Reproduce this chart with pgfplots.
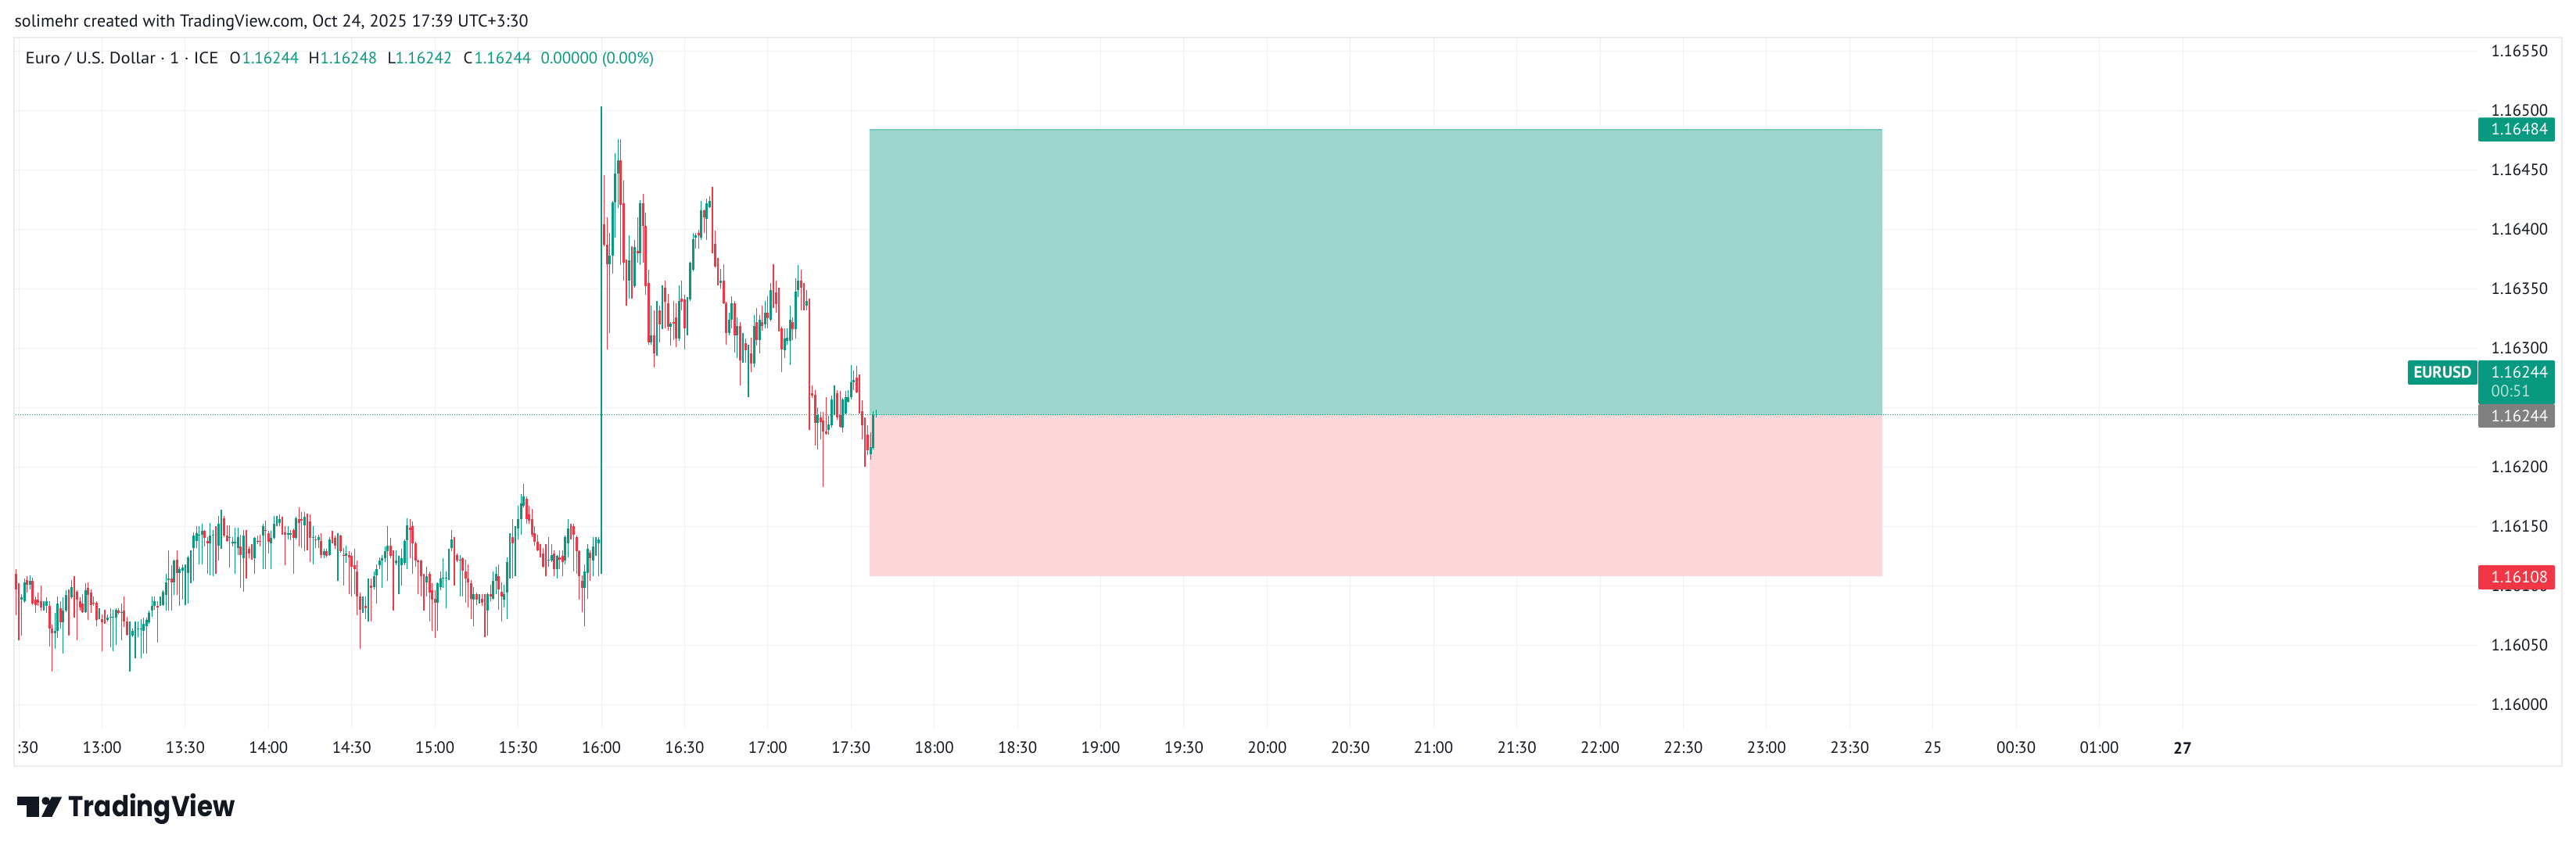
\documentclass[border=0pt]{standalone}
\usepackage{fontspec}
\setmainfont{PT Sans}
\newfontfamily\logofont{Poppins}
\usepackage{pgfplots}
\pgfplotsset{compat=1.18}
\usepackage{pgfplotstable}

\definecolor{tvgreen}{HTML}{089981}
\definecolor{tvred}{HTML}{F23645}
\definecolor{tvtext}{HTML}{131722}
\definecolor{gridc}{HTML}{F0F0F0}
\definecolor{framec}{HTML}{ECECEC}
\definecolor{tpfill}{HTML}{9CD6CC}
\definecolor{slfill}{HTML}{FCD7DA}
\definecolor{boxgray}{HTML}{808080}
\definecolor{dimwhite}{HTML}{B5E0D9}
\newcommand\tvs{\fontsize{6.25}{7}\selectfont}

% 1-minute candles, t = minutes after midnight (Oct 24)
\pgfplotstableread{
t o h l c
751 1.16088 1.16093 1.16058 1.16090
752 1.16087 1.16106 1.16086 1.16103
754 1.16101 1.16109 1.16097 1.16104
759 1.16082 1.16087 1.16079 1.16083
760 1.16083 1.16090 1.16077 1.16087
763 1.16060 1.16077 1.16047 1.16062
764 1.16062 1.16091 1.16056 1.16085
766 1.16069 1.16090 1.16043 1.16079
767 1.16079 1.16096 1.16078 1.16092
769 1.16090 1.16105 1.16089 1.16099
774 1.16078 1.16102 1.16077 1.16096
779 1.16073 1.16081 1.16072 1.16075
782 1.16071 1.16076 1.16070 1.16073
783 1.16073 1.16081 1.16048 1.16074
784 1.16073 1.16080 1.16045 1.16074
785 1.16073 1.16081 1.16050 1.16080
787 1.16077 1.16085 1.16054 1.16078
790 1.16059 1.16070 1.16028 1.16060
791 1.16058 1.16064 1.16057 1.16062
792 1.16062 1.16070 1.16039 1.16064
793 1.16063 1.16070 1.16057 1.16064
794 1.16063 1.16072 1.16039 1.16064
795 1.16062 1.16073 1.16043 1.16068
796 1.16066 1.16073 1.16043 1.16071
797 1.16069 1.16079 1.16068 1.16077
798 1.16079 1.16091 1.16074 1.16083
799 1.16083 1.16091 1.16080 1.16087
801 1.16084 1.16091 1.16083 1.16085
802 1.16084 1.16096 1.16083 1.16095
803 1.16092 1.16110 1.16079 1.16103
804 1.16105 1.16130 1.16079 1.16106
806 1.16103 1.16122 1.16092 1.16121
808 1.16111 1.16116 1.16083 1.16114
809 1.16113 1.16118 1.16088 1.16115
810 1.16113 1.16118 1.16084 1.16115
811 1.16111 1.16125 1.16085 1.16124
812 1.16124 1.16130 1.16102 1.16129
813 1.16132 1.16145 1.16104 1.16142
814 1.16138 1.16150 1.16132 1.16144
815 1.16142 1.16150 1.16118 1.16143
816 1.16143 1.16152 1.16118 1.16146
819 1.16136 1.16153 1.16109 1.16142
820 1.16142 1.16147 1.16108 1.16143
822 1.16134 1.16159 1.16121 1.16152
823 1.16151 1.16164 1.16131 1.16157
826 1.16140 1.16151 1.16115 1.16141
827 1.16136 1.16141 1.16133 1.16137
828 1.16136 1.16149 1.16110 1.16137
829 1.16132 1.16149 1.16126 1.16141
831 1.16123 1.16147 1.16095 1.16142
835 1.16123 1.16141 1.16110 1.16140
838 1.16142 1.16152 1.16114 1.16150
841 1.16136 1.16146 1.16114 1.16140
842 1.16140 1.16159 1.16139 1.16152
843 1.16151 1.16159 1.16150 1.16154
844 1.16153 1.16160 1.16150 1.16156
847 1.16143 1.16150 1.16139 1.16144
848 1.16143 1.16147 1.16138 1.16144
850 1.16140 1.16158 1.16139 1.16157
853 1.16151 1.16162 1.16129 1.16158
856 1.16140 1.16150 1.16118 1.16141
858 1.16138 1.16143 1.16132 1.16141
860 1.16126 1.16131 1.16123 1.16129
862 1.16126 1.16141 1.16125 1.16139
865 1.16138 1.16144 1.16104 1.16140
868 1.16125 1.16134 1.16119 1.16127
874 1.16080 1.16091 1.16077 1.16085
876 1.16082 1.16106 1.16070 1.16104
878 1.16099 1.16112 1.16097 1.16108
879 1.16109 1.16118 1.16085 1.16114
880 1.16117 1.16124 1.16114 1.16121
881 1.16121 1.16126 1.16098 1.16123
882 1.16123 1.16133 1.16120 1.16129
883 1.16129 1.16150 1.16104 1.16134
886 1.16119 1.16130 1.16117 1.16121
887 1.16117 1.16125 1.16093 1.16118
888 1.16117 1.16131 1.16100 1.16123
889 1.16119 1.16139 1.16117 1.16138
890 1.16138 1.16157 1.16114 1.16151
897 1.16103 1.16116 1.16091 1.16108
901 1.16086 1.16103 1.16062 1.16102
902 1.16099 1.16112 1.16096 1.16106
903 1.16106 1.16123 1.16098 1.16107
904 1.16106 1.16112 1.16081 1.16107
905 1.16106 1.16131 1.16105 1.16130
906 1.16132 1.16147 1.16129 1.16139
909 1.16121 1.16126 1.16091 1.16122
914 1.16088 1.16099 1.16066 1.16093
916 1.16088 1.16093 1.16085 1.16089
919 1.16079 1.16094 1.16058 1.16093
921 1.16089 1.16112 1.16088 1.16104
922 1.16104 1.16116 1.16093 1.16110
925 1.16088 1.16101 1.16082 1.16093
926 1.16094 1.16124 1.16072 1.16120
927 1.16121 1.16144 1.16106 1.16140
929 1.16133 1.16150 1.16108 1.16148
930 1.16148 1.16167 1.16139 1.16156
931 1.16156 1.16177 1.16143 1.16169
932 1.16167 1.16186 1.16166 1.16175
941 1.16121 1.16141 1.16116 1.16122
942 1.16121 1.16135 1.16120 1.16126
944 1.16114 1.16126 1.16106 1.16125
947 1.16121 1.16142 1.16118 1.16141
948 1.16136 1.16156 1.16124 1.16148
954 1.16098 1.16118 1.16066 1.16112
955 1.16111 1.16135 1.16089 1.16131
957 1.16121 1.16141 1.16108 1.16133
958 1.16131 1.16141 1.16125 1.16133
959 1.16136 1.16141 1.16108 1.16139
960 1.16113 1.16504 1.16110 1.16399
963 1.16371 1.16397 1.16313 1.16378
964 1.16378 1.16424 1.16363 1.16423
965 1.16423 1.16464 1.16393 1.16447
966 1.16447 1.16476 1.16418 1.16458
970 1.16357 1.16395 1.16342 1.16374
972 1.16352 1.16391 1.16351 1.16385
974 1.16380 1.16425 1.16370 1.16422
978 1.16305 1.16336 1.16303 1.16311
980 1.16296 1.16340 1.16294 1.16332
982 1.16317 1.16353 1.16316 1.16351
985 1.16318 1.16322 1.16302 1.16321
988 1.16308 1.16353 1.16306 1.16340
991 1.16318 1.16343 1.16311 1.16342
992 1.16341 1.16373 1.16340 1.16372
993 1.16366 1.16397 1.16365 1.16392
994 1.16393 1.16397 1.16384 1.16395
996 1.16393 1.16424 1.16391 1.16416
998 1.16409 1.16426 1.16391 1.16422
999 1.16419 1.16428 1.16418 1.16424
1003 1.16355 1.16367 1.16350 1.16357
1006 1.16313 1.16330 1.16311 1.16324
1007 1.16324 1.16344 1.16317 1.16338
1009 1.16311 1.16326 1.16292 1.16319
1011 1.16292 1.16313 1.16288 1.16304
1013 1.16296 1.16303 1.16259 1.16297
1015 1.16287 1.16328 1.16284 1.16319
1017 1.16307 1.16328 1.16296 1.16324
1019 1.16320 1.16340 1.16317 1.16330
1021 1.16324 1.16355 1.16323 1.16349
1026 1.16298 1.16317 1.16292 1.16308
1027 1.16306 1.16317 1.16303 1.16309
1028 1.16306 1.16336 1.16286 1.16324
1030 1.16316 1.16359 1.16308 1.16348
1031 1.16349 1.16370 1.16343 1.16357
1034 1.16336 1.16349 1.16332 1.16340
1038 1.16237 1.16250 1.16215 1.16244
1042 1.16231 1.16243 1.16227 1.16236
1043 1.16235 1.16260 1.16233 1.16257
1044 1.16256 1.16269 1.16244 1.16262
1047 1.16233 1.16258 1.16229 1.16257
1048 1.16245 1.16264 1.16244 1.16259
1049 1.16255 1.16265 1.16254 1.16259
1050 1.16259 1.16286 1.16257 1.16271
1051 1.16271 1.16281 1.16265 1.16273
1057 1.16211 1.16229 1.16206 1.16217
1058 1.16216 1.16247 1.16215 1.16244
1059 1.16244 1.16248 1.16242 1.16244
}\up

\pgfplotstableread{
t o h l c
749 1.16110 1.16114 1.16075 1.16097
750 1.16100 1.16102 1.16054 1.16088
753 1.16105 1.16108 1.16094 1.16101
755 1.16104 1.16107 1.16084 1.16085
756 1.16088 1.16091 1.16077 1.16084
757 1.16088 1.16094 1.16083 1.16086
758 1.16087 1.16100 1.16079 1.16082
761 1.16083 1.16087 1.16049 1.16064
762 1.16064 1.16067 1.16028 1.16060
765 1.16081 1.16087 1.16064 1.16069
768 1.16090 1.16097 1.16058 1.16087
770 1.16100 1.16108 1.16073 1.16092
771 1.16095 1.16096 1.16054 1.16088
772 1.16087 1.16090 1.16079 1.16082
773 1.16085 1.16093 1.16077 1.16078
775 1.16098 1.16103 1.16071 1.16092
776 1.16094 1.16097 1.16077 1.16084
777 1.16086 1.16091 1.16083 1.16085
778 1.16086 1.16087 1.16066 1.16071
780 1.16072 1.16076 1.16045 1.16069
781 1.16072 1.16080 1.16068 1.16069
786 1.16079 1.16081 1.16076 1.16077
788 1.16079 1.16091 1.16065 1.16070
789 1.16070 1.16074 1.16058 1.16059
800 1.16083 1.16087 1.16052 1.16082
805 1.16106 1.16117 1.16079 1.16103
807 1.16122 1.16130 1.16092 1.16111
817 1.16146 1.16147 1.16133 1.16140
818 1.16138 1.16141 1.16110 1.16136
821 1.16141 1.16150 1.16110 1.16136
824 1.16157 1.16159 1.16141 1.16142
825 1.16142 1.16151 1.16137 1.16138
830 1.16133 1.16143 1.16098 1.16126
832 1.16142 1.16147 1.16106 1.16131
833 1.16131 1.16133 1.16123 1.16127
834 1.16129 1.16135 1.16122 1.16123
836 1.16138 1.16142 1.16135 1.16137
837 1.16138 1.16143 1.16133 1.16137
839 1.16147 1.16155 1.16114 1.16146
840 1.16144 1.16146 1.16127 1.16137
845 1.16154 1.16158 1.16143 1.16145
846 1.16145 1.16150 1.16117 1.16143
849 1.16147 1.16148 1.16110 1.16140
851 1.16156 1.16166 1.16133 1.16153
852 1.16156 1.16162 1.16132 1.16155
854 1.16157 1.16161 1.16130 1.16155
855 1.16154 1.16160 1.16120 1.16140
857 1.16139 1.16142 1.16132 1.16138
859 1.16138 1.16144 1.16123 1.16126
861 1.16129 1.16131 1.16124 1.16125
863 1.16140 1.16146 1.16136 1.16138
864 1.16140 1.16142 1.16131 1.16134
866 1.16142 1.16143 1.16128 1.16129
867 1.16126 1.16132 1.16100 1.16125
869 1.16126 1.16129 1.16093 1.16124
870 1.16125 1.16128 1.16091 1.16116
871 1.16117 1.16131 1.16093 1.16114
872 1.16112 1.16121 1.16075 1.16091
873 1.16091 1.16094 1.16047 1.16080
875 1.16083 1.16091 1.16072 1.16081
877 1.16100 1.16106 1.16070 1.16098
884 1.16134 1.16140 1.16123 1.16125
885 1.16123 1.16130 1.16079 1.16121
891 1.16149 1.16156 1.16123 1.16147
892 1.16150 1.16154 1.16110 1.16136
893 1.16136 1.16137 1.16116 1.16121
894 1.16121 1.16122 1.16093 1.16120
895 1.16121 1.16122 1.16091 1.16108
896 1.16108 1.16110 1.16079 1.16104
898 1.16110 1.16112 1.16070 1.16094
899 1.16096 1.16102 1.16062 1.16088
900 1.16089 1.16096 1.16056 1.16086
907 1.16139 1.16141 1.16100 1.16123
908 1.16126 1.16127 1.16120 1.16121
910 1.16123 1.16124 1.16091 1.16113
911 1.16112 1.16122 1.16086 1.16106
912 1.16106 1.16118 1.16082 1.16103
913 1.16102 1.16105 1.16072 1.16089
915 1.16093 1.16094 1.16084 1.16088
917 1.16089 1.16093 1.16083 1.16086
918 1.16089 1.16093 1.16057 1.16081
920 1.16093 1.16101 1.16087 1.16091
923 1.16108 1.16118 1.16080 1.16097
924 1.16095 1.16103 1.16070 1.16091
928 1.16141 1.16156 1.16106 1.16136
933 1.16173 1.16175 1.16152 1.16156
934 1.16160 1.16167 1.16152 1.16155
935 1.16156 1.16165 1.16141 1.16143
936 1.16144 1.16150 1.16134 1.16137
937 1.16137 1.16143 1.16129 1.16130
938 1.16131 1.16135 1.16124 1.16127
939 1.16127 1.16132 1.16115 1.16116
940 1.16124 1.16135 1.16108 1.16118
943 1.16127 1.16130 1.16108 1.16114
945 1.16124 1.16130 1.16114 1.16122
946 1.16125 1.16130 1.16108 1.16120
949 1.16148 1.16152 1.16139 1.16146
950 1.16150 1.16152 1.16112 1.16143
951 1.16141 1.16142 1.16110 1.16129
952 1.16129 1.16130 1.16088 1.16108
953 1.16104 1.16109 1.16078 1.16098
956 1.16128 1.16130 1.16104 1.16123
961 1.16404 1.16446 1.16386 1.16387
962 1.16387 1.16410 1.16299 1.16371
967 1.16458 1.16476 1.16370 1.16421
968 1.16422 1.16441 1.16357 1.16372
969 1.16374 1.16375 1.16336 1.16356
971 1.16372 1.16386 1.16342 1.16352
973 1.16382 1.16410 1.16372 1.16380
975 1.16422 1.16430 1.16372 1.16403
976 1.16403 1.16414 1.16345 1.16352
977 1.16355 1.16366 1.16303 1.16305
979 1.16311 1.16332 1.16284 1.16296
981 1.16332 1.16336 1.16305 1.16320
983 1.16351 1.16357 1.16317 1.16339
984 1.16338 1.16346 1.16315 1.16318
986 1.16322 1.16340 1.16307 1.16321
987 1.16326 1.16338 1.16301 1.16308
989 1.16342 1.16357 1.16332 1.16339
990 1.16341 1.16345 1.16299 1.16317
995 1.16397 1.16400 1.16384 1.16395
997 1.16416 1.16417 1.16397 1.16410
1000 1.16424 1.16436 1.16380 1.16387
1001 1.16388 1.16399 1.16368 1.16369
1002 1.16372 1.16376 1.16353 1.16356
1004 1.16357 1.16371 1.16337 1.16338
1005 1.16338 1.16339 1.16303 1.16313
1008 1.16338 1.16340 1.16296 1.16311
1010 1.16319 1.16322 1.16269 1.16290
1012 1.16304 1.16308 1.16288 1.16298
1014 1.16296 1.16309 1.16280 1.16287
1016 1.16322 1.16334 1.16302 1.16307
1018 1.16322 1.16336 1.16315 1.16319
1020 1.16330 1.16344 1.16317 1.16325
1022 1.16350 1.16371 1.16334 1.16346
1023 1.16347 1.16357 1.16330 1.16337
1024 1.16338 1.16351 1.16314 1.16320
1025 1.16317 1.16318 1.16280 1.16299
1029 1.16322 1.16326 1.16307 1.16316
1032 1.16357 1.16366 1.16332 1.16351
1033 1.16353 1.16355 1.16332 1.16336
1035 1.16338 1.16342 1.16231 1.16262
1036 1.16262 1.16269 1.16258 1.16260
1037 1.16261 1.16265 1.16218 1.16237
1039 1.16242 1.16246 1.16223 1.16238
1040 1.16239 1.16246 1.16183 1.16230
1041 1.16230 1.16259 1.16227 1.16228
1045 1.16262 1.16265 1.16240 1.16242
1046 1.16244 1.16264 1.16233 1.16234
1052 1.16275 1.16285 1.16262 1.16263
1053 1.16262 1.16278 1.16245 1.16246
1054 1.16247 1.16256 1.16223 1.16235
1055 1.16234 1.16242 1.16200 1.16226
1056 1.16227 1.16235 1.16210 1.16214
}\dn

\begin{document}
\begin{tikzpicture}
\path[use as bounding box] (0,0) rectangle (988.2pt,325.8pt);

\begin{axis}[
  at={(5.25pt,46.29pt)}, anchor=south west,
  scale only axis, width=945.15pt, height=265.11pt,
  xmin=748.145, xmax=1636.28,
  ymin=1.159799, ymax=1.1656165,
  axis line style={draw=none},
  major tick length=0pt,
  clip=false,
  grid=major,
  major grid style={draw=gridc, line width=0.3pt},
  xtick={750,780,...,1530},
  xticklabels={\phantom{12}:30,13:00,13:30,14:00,14:30,15:00,15:30,16:00,16:30,17:00,17:30,18:00,18:30,19:00,19:30,20:00,20:30,21:00,21:30,22:00,22:30,23:00,23:30,25,00:30,01:00,\textbf{27}},
  xticklabel style={anchor=center, yshift=-7.5pt, inner sep=0pt, font=\tvs, text=tvtext},
  ytick={1.16,1.1605,1.161,1.1615,1.162,1.1625,1.163,1.1635,1.164,1.1645,1.165,1.1655},
  yticklabels={1.16000,1.16050,1.16100,1.16150,1.16200,,1.16300,1.16350,1.16400,1.16450,1.16500,1.16550},
  yticklabel pos=right,
  yticklabel style={anchor=west, xshift=5.1pt, inner sep=0pt, font=\tvs, text=tvtext},
  candle/.style={draw=none, mark=none, error bars/.cd, y dir=minus, y explicit, error mark=none},
]
% long position tool
\fill[tpfill] (axis cs:1056.8,1.16244) rectangle (axis cs:1421.8,1.16484);
\fill[slfill] (axis cs:1056.8,1.16108) rectangle (axis cs:1421.8,1.16244);
\draw[tvgreen!55, line width=0.45pt] (axis cs:1056.8,1.16484) -- (axis cs:1421.8,1.16484);
% last price line
\draw[tvgreen, line width=0.3pt, dash pattern=on 0.3pt off 0.6pt] (axis cs:748.145,1.16244) -- (axis cs:1636.28,1.16244);

% wicks
\addplot[candle, error bar style={line width=0.35pt, draw=tvgreen}]
  table[x=t, y=h, y error expr=\thisrow{h}-\thisrow{l}] {\up};
\addplot[candle, error bar style={line width=0.35pt, draw=tvred}]
  table[x=t, y=h, y error expr=\thisrow{h}-\thisrow{l}] {\dn};
% bodies
\addplot[candle, error bar style={line width=0.85pt, draw=tvgreen, line cap=butt}]
  table[x=t, y=c, y error expr=\thisrow{c}-\thisrow{o}] {\up};
\addplot[candle, error bar style={line width=0.85pt, draw=tvred, line cap=butt}]
  table[x=t, y=o, y error expr=\thisrow{o}-\thisrow{c}] {\dn};
\end{axis}

\begin{scope}[x=0.3pt, y=-0.3pt, yshift=325.8pt]
  % chart frame
  \draw[framec, line width=0.6pt] (17.5,48) rectangle (3276,980);
  % header
  \node[anchor=base west, inner sep=0, text=tvtext, font=\fontsize{6.62}{8}\selectfont] at (18,35)
    {solimehr created with TradingView.com, Oct 24, 2025 17:39 UTC+3:30};
  \begin{scope}[every node/.style={anchor=base west, inner sep=0, font=\tvs, text=tvtext}]
    \node at (32,81.7) {\scalebox{1.09}[1]{Euro / U.S. Dollar · 1 · ICE}};
    \node at (293,81.7) {O}; \node[text=tvgreen] at (309,81.7) {1.16244};
    \node at (394,81.7) {H}; \node[text=tvgreen] at (409,81.7) {1.16248};
    \node at (495,81.7) {L}; \node[text=tvgreen] at (505,81.7) {1.16242};
    \node at (592,81.7) {C}; \node[text=tvgreen] at (606,81.7) {1.16244};
    \node[text=tvgreen] at (691,81.7) {0.00000 (0.00\%)};
  \end{scope}
  % price scale labels
  \begin{scope}[every node/.style={anchor=west, inner sep=0, font=\tvs, text=white}]
    \fill[tvgreen, rounded corners=0.6pt] (3169,150.3) rectangle (3267,181);
    \node at (3185,165.7) {1.16484};
    \fill[tvgreen, rounded corners=0.6pt] (3079,461) rectangle (3168,492);
    \node[anchor=center, font=\tvs\bfseries] at (3123.5,476.5) {EURUSD};
    \fill[tvgreen, rounded corners=0.6pt] (3169,461) rectangle (3267,517);
    \node at (3185,476.7) {1.16244};
    \node[text=dimwhite] at (3185,500) {00:51};
    \fill[boxgray, rounded corners=0.6pt] (3169,517) rectangle (3267,547);
    \node at (3185,532) {1.16244};
    \fill[tvred, rounded corners=0.6pt] (3169,723) rectangle (3267,754);
    \node at (3185,738.5) {1.16108};
  \end{scope}
  % logo
  \fill[tvtext] (21.7,1019.3) rectangle (50,1030);
  \fill[tvtext] (34.3,1019.3) rectangle (50,1045);
  \fill[tvtext] (58.5,1024.5) circle (5.2);
  \fill[tvtext] (66,1019.3) -- (79.3,1019.3) -- (66.3,1045) -- (53,1045) -- cycle;
  \node[anchor=base west, inner sep=0, text=tvtext, font=\logofont\bfseries\fontsize{11}{12}\selectfont] at (87,1045) {\scalebox{0.89}[1]{TradingView}};
\end{scope}
\end{tikzpicture}
\end{document}
